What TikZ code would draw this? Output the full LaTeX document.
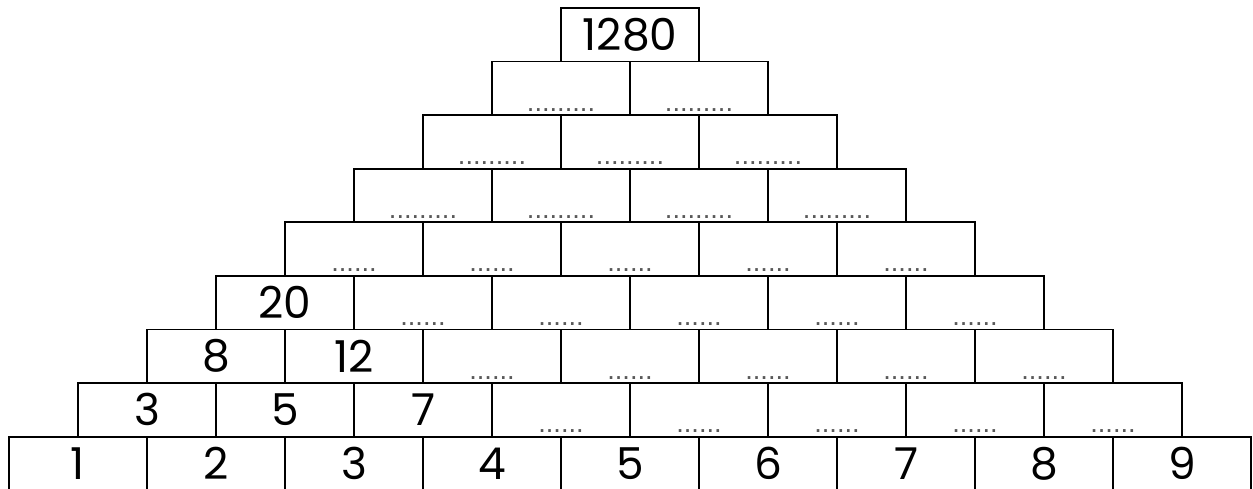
\documentclass[tikz,border=0pt]{standalone}
\usepackage{fontspec}
\setmainfont{Poppins}
\newfontfamily\dotfont{Liberation Sans}
\usetikzlibrary{positioning}

\newcommand{\sixdots}{......}
\newcommand{\ninedots}{.........}

\begin{document}
\begin{tikzpicture}[
  x=0.02cm, y=-0.02cm,
  every node/.style={align=center},
  %% ─── styles ─────────────────────────────────────────────
  cell/.style={
    draw=black, line width=1.1pt, inner sep=0pt,
    minimum width=2.76cm, minimum height=1.072cm,
    font=\fontsize{25}{30}\selectfont},
  gap/.style={
    text=black!65, inner sep=0pt, anchor=base,
    font=\dotfont\fontsize{15.5}{16}\selectfont}
]
  \useasboundingbox (0,0) rectangle (1253,489);

  %% ─── 1. cells holding a number ──────────────────────────
  \foreach \r/\i/\t in {1/1/1, 1/2/2, 1/3/3, 1/4/4, 1/5/5, 1/6/6, 1/7/7, 1/8/8, 1/9/9,
                        2/1/3, 2/2/5, 2/3/7, 3/1/8, 3/2/12, 4/1/20, 9/1/1280} {
    \pgfmathsetmacro\cx{78+69*(\r-1)+138*(\i-1)}
    \pgfmathsetmacro\cy{463.5-53.6*(\r-1)}
    \node[cell] (c\r-\i) at (\cx,\cy) {\t};
  }

  %% ─── 2. empty cells with dots ───────────────────────────
  \foreach \r/\first/\last/\nd in {2/4/8/6, 3/3/7/6, 4/2/6/6, 5/1/5/6,
                                   6/1/4/9, 7/1/3/9, 8/1/2/9} {
    \foreach \i in {\first,...,\last} {
      \pgfmathsetmacro\cx{78+69*(\r-1)+138*(\i-1)}
      \pgfmathsetmacro\cy{463.5-53.6*(\r-1)}
      \node[cell] (c\r-\i) at (\cx,\cy) {};
      \node[gap] (d\r-\i) at ([yshift=0.1cm]c\r-\i.south)
        {\ifnum\nd=6 \sixdots\else\ninedots\fi};
    }
  }
\end{tikzpicture}
\end{document}
